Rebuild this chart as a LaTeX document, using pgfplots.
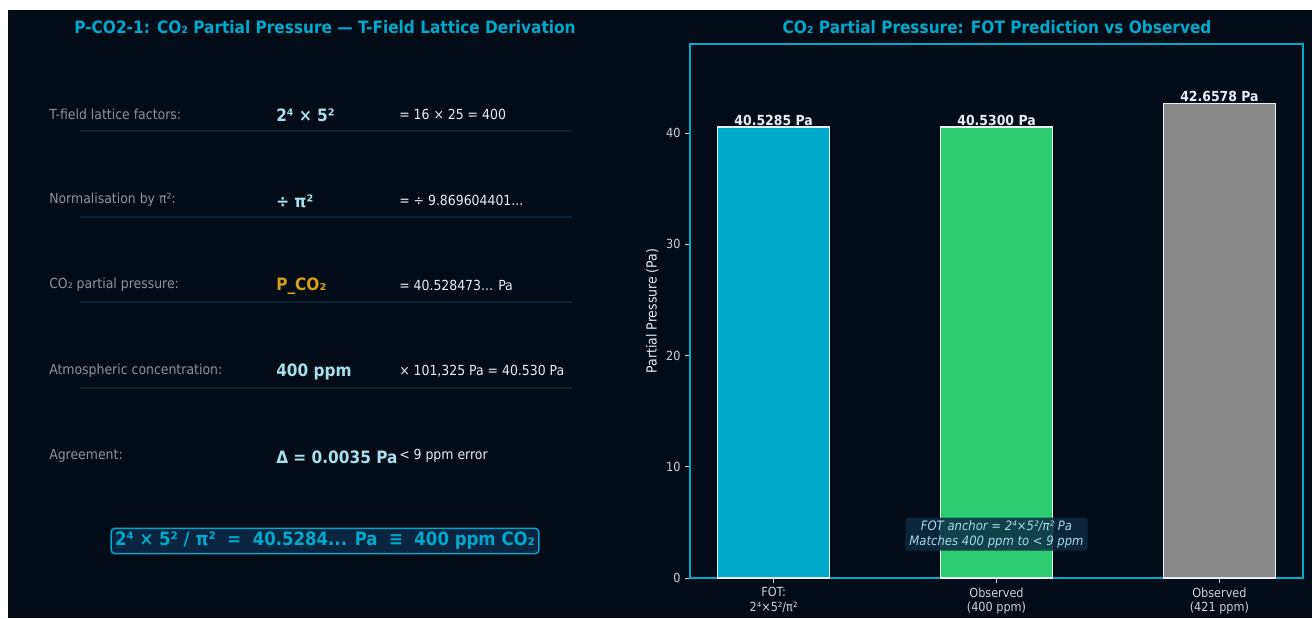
\documentclass[border=0pt]{standalone}
\usepackage{pgfplots}
\pgfplotsset{compat=1.18}
\usepackage{fontspec}
\setmainfont{DejaVu Sans Condensed}
\definecolor{bg}{HTML}{040C18}
\definecolor{teal}{HTML}{00A8CC}
\definecolor{lblgray}{HTML}{8B949E}
\definecolor{midblue}{HTML}{A8DFEE}
\definecolor{gold}{HTML}{D4A017}
\definecolor{txtw}{HTML}{E6EDF3}
\definecolor{sep}{HTML}{0B1F35}
\definecolor{boxfill}{HTML}{0A2540}
\definecolor{annfill}{HTML}{0D2A44}
\definecolor{anntext}{HTML}{A8D8EA}
\definecolor{barA}{HTML}{00AACC}
\definecolor{barB}{HTML}{2ECC71}
\definecolor{barC}{HTML}{888888}
\definecolor{ticklab}{HTML}{C9D1D9}
\begin{document}
\begin{tikzpicture}
\begin{scope}[x=0.75pt,y=-0.75pt]
\fill[white] (0,0) rectangle (1312,618);
\fill[bg] (8,10) rectangle (1312,618);
% left title
\node[font=\fontsize{12.8}{14}\selectfont\bfseries, text=teal] at (325,27) {P-CO2-1: CO₂ Partial Pressure — T-Field Lattice Derivation};
% rows
\foreach \yy in {131,217,302,388}{\draw[sep, line width=0.9pt] (80,\yy) -- (572,\yy);}
\tikzset{lab/.style={anchor=west, inner sep=0pt, font=\fontsize{10.4}{12}\selectfont, text=lblgray},
         mid/.style={anchor=west, inner sep=0pt, font=\fontsize{12.8}{14}\selectfont\bfseries, text=midblue},
         rgt/.style={anchor=west, inner sep=0pt, font=\fontsize{10.4}{12}\selectfont, text=txtw}}
\node[lab] at (49,114) {T-field lattice factors:};
\node[mid] at (276,115) {2⁴ × 5²};
\node[rgt] at (399,114) {= 16 × 25 = 400};
\node[lab] at (49,200) {Normalisation by π²:};
\node[mid] at (276,201) {÷ π²};
\node[rgt] at (399,200) {= ÷ 9.869604401...};
\node[lab] at (49,285) {CO₂ partial pressure:};
\node[mid, text=gold] at (276,286) {P\_CO₂};
\node[rgt] at (399,285) {= 40.528473... Pa};
\node[lab] at (49,371) {Atmospheric concentration:};
\node[mid] at (276,372) {400 ppm};
\node[rgt] at (399,371) {× 101,325 Pa = 40.530 Pa};
\node[lab] at (49,456) {Agreement:};
\node[mid] at (276,457) {Δ = 0.0035 Pa};
\node[rgt] at (399,456) {< 9 ppm error};
\node[draw=teal, line width=1.1pt, fill=boxfill, rounded corners=3pt, inner xsep=3pt, inner ysep=3pt,
      font=\fontsize{13.8}{15}\selectfont\bfseries, text=teal] at (325,541) {2⁴ × 5² / π²\ \ =\ \ 40.5284... Pa\ \ ≡\ \ 400 ppm CO₂};
% right title
\node[font=\fontsize{12.8}{14}\selectfont\bfseries, text=teal] at (997,27) {CO₂ Partial Pressure: FOT Prediction vs Observed};
\end{scope}
\begin{axis}[
  at={(517.5pt,-433.5pt)}, anchor=south west,
  width=459.75pt, height=400.5pt, scale only axis,
  xmin=-0.375, xmax=2.375, ymin=0, ymax=47.99,
  axis line style={teal, line width=0.9pt},
  xtick={0,1,2},
  xticklabels={{FOT:\\2⁴×5²/π²},{Observed\\(400 ppm)},{Observed\\(421 ppm)}},
  ytick={0,10,20,30,40},
  tick align=outside, major tick length=3.6pt,
  tick style={ticklab, line width=0.6pt},
  xtick pos=bottom, ytick pos=left,
  /pgf/number format/assume math mode=true,
  tick label style={font=\fontsize{9.4}{11}\selectfont, text=ticklab},
  xticklabel style={align=center, yshift=0pt},
  ylabel={Partial Pressure (Pa)},
  ylabel style={font=\fontsize{10.4}{12}\selectfont, text=txtw, yshift=-1pt},
  nodes near coords style={font=\fontsize{10.4}{12}\selectfont\bfseries, text=txtw, anchor=south, inner sep=0.5pt},
  clip=false,
]
\addplot[ybar, bar width=0.5, fill=barA, draw=txtw, line width=0.8pt, nodes near coords={40.5285 Pa}] coordinates {(0,40.5285)};
\addplot[ybar, bar width=0.5, fill=barB, draw=txtw, line width=0.8pt, nodes near coords={40.5300 Pa}] coordinates {(1,40.5300)};
\addplot[ybar, bar width=0.5, fill=barC, draw=txtw, line width=0.8pt, nodes near coords={42.6578 Pa}] coordinates {(2,42.6578)};
\node[fill=annfill, fill opacity=0.85, text opacity=1, text=anntext, rounded corners=2pt, align=center,
      inner xsep=3pt, inner ysep=2pt, font=\fontsize{9.7}{11.3}\selectfont\itshape] at (axis cs:1,3.95)
      {FOT anchor = 2⁴×5²/π² Pa\\Matches 400 ppm to < 9 ppm};
\end{axis}
\pgfresetboundingbox
\useasboundingbox (0,0) rectangle (984pt,-463.5pt);
\end{tikzpicture}
\end{document}
